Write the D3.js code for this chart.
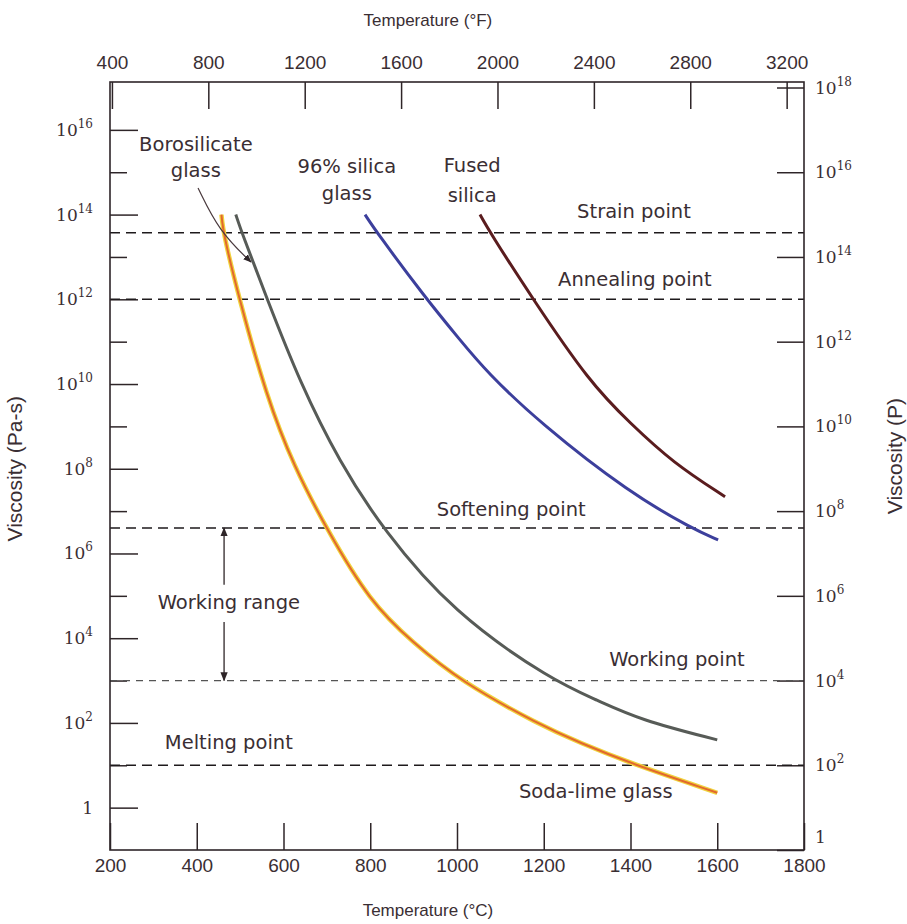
<!DOCTYPE html>
<meta charset="utf-8">
<script src="https://d3js.org/d3.v7.min.js"></script>
<style>
  body { margin: 0; background: #fff; }
  .tick line { stroke: #2e2528; stroke-width: 1.5; }
  .axis path.domain { display: none; }
</style>
<div id="chart"></div>
<script>

// ---- data (temperature in degC, viscosity as log10 of Pa-s) ----
var sodaLimeT   = [457, 461, 497, 561, 624, 700, 799, 899, 1007, 1191, 1284, 1399, 1600];
var sodaLimeLog = [14.0, 13.57, 12.04, 9.70, 8.05, 6.57, 4.86, 3.89, 2.99, 1.95, 1.53, 1.05, 0.35];

var boroT   = [490, 504, 561, 638, 730, 829, 991, 1221, 1323, 1422, 1600];
var boroLog = [14.0, 13.57, 12.04, 10.03, 8.14, 6.57, 4.60, 2.99, 2.54, 2.07, 1.60];

var silica96T   = [788, 815, 926, 1007, 1068, 1191, 1399, 1544, 1602];
var silica96Log = [14.0, 13.58, 12.05, 11.04, 10.29, 9.08, 7.42, 6.58, 6.32];

var fusedT   = [1053, 1076, 1172, 1307, 1399, 1498, 1618];
var fusedLog = [14.0, 13.58, 12.05, 10.02, 9.08, 8.14, 7.34];

// reference viscosities (log10 Pa-s)
var refNames = ["Strain point", "Annealing point", "Softening point", "Working point", "Melting point"];
var refLog   = [13.57, 12.0, 6.6, 3.0, 1.0];

// tick values
var celsiusTicks    = [200, 400, 600, 800, 1000, 1200, 1400, 1600, 1800];
var fahrenheitTicks = [400, 800, 1200, 1600, 2000, 2400, 2800, 3200];
var pasExponents    = [0, 2, 4, 6, 8, 10, 12, 14, 16];      // left axis labels
var pasMinorExp     = [1, 3, 5, 7, 9, 11, 13, 15];
var poiseExponents  = [0, 2, 4, 6, 8, 10, 12, 14, 16, 18]; // right axis labels

// text annotations: [text, degC, log10 Pa-s of baseline]
var notes = [
  ["Borosilicate", 398, 15.5],
  ["glass", 398, 14.89],
  ["96% silica", 746, 14.99],
  ["glass", 746, 14.35],
  ["Fused", 1035, 15.0],
  ["silica", 1035, 14.3],
  ["Strain point", 1408, 13.92],
  ["Annealing point", 1410, 12.32],
  ["Softening point", 1125, 6.89],
  ["Working range", 474, 4.69],
  ["Working point", 1507, 3.34],
  ["Melting point", 474, 1.385],
  ["Soda-lime glass", 1320, 0.228]
];

// ---- layout ----
var margin = {top: 82, right: 103, bottom: 74, left: 110},
    width = 907 - margin.left - margin.right,
    height = 924 - margin.top - margin.bottom;

var ink = "#3a2e33";

var svg = d3.select("#chart")
  .append("svg")
    .attr("width", 907)
    .attr("height", 924)
  .append("g")
    .attr("transform", "translate(" + margin.left + "," + margin.top + ")");

var defs = d3.select("svg").append("defs");
defs.append("marker")
    .attr("id", "arrow")
    .attr("viewBox", "0 0 10 10")
    .attr("refX", 9).attr("refY", 5)
    .attr("markerWidth", 7).attr("markerHeight", 7)
    .attr("orient", "auto-start-reverse")
  .append("path")
    .attr("d", "M0,1 L10,5 L0,9 Z")
    .attr("fill", "#2e2528");

// scales
var x = d3.scaleLinear().domain([200, 1800]).range([0, width]);
var xF = d3.scaleLinear().domain([200 * 9 / 5 + 32, 1800 * 9 / 5 + 32]).range([0, width]);
var y = d3.scaleLog().domain([0.1, Math.pow(10, 17.13)]).range([height, 0]);
var yP = d3.scaleLog().domain([1, Math.pow(10, 18.13)]).range([height, 0]);

function yl(v) { return y(Math.pow(10, v)); }

// bottom axis (degC)
var xAxis = svg.append("g")
  .attr("class", "axis")
  .attr("transform", "translate(0," + height + ")")
  .call(d3.axisBottom(x).tickValues(celsiusTicks).tickFormat(d3.format("d"))
    .tickSize(-27).tickSizeOuter(0).tickPadding(9));
xAxis.selectAll("text")
  .style("font-family", "'Liberation Sans', Arial, sans-serif")
  .style("font-size", "19px")
  .attr("fill", ink);

// top axis (degF)
var xAxisTop = svg.append("g")
  .attr("class", "axis")
  .call(d3.axisTop(xF).tickValues(fahrenheitTicks).tickFormat(d3.format("d"))
    .tickSize(-27).tickSizeOuter(0).tickPadding(13));
xAxisTop.selectAll("text")
  .style("font-family", "'Liberation Sans', Arial, sans-serif")
  .style("font-size", "19px")
  .attr("fill", ink);

// left ticks (Pa-s)
svg.append("g").attr("class", "axis")
  .call(d3.axisLeft(y).tickValues(pasExponents.map(function(e) { return Math.pow(10, e); }))
    .tickSize(-28).tickSizeOuter(0).tickFormat(""));
svg.append("g").attr("class", "axis")
  .call(d3.axisLeft(y).tickValues(pasMinorExp.map(function(e) { return Math.pow(10, e); }))
    .tickSize(-17).tickSizeOuter(0).tickFormat(""));

// right ticks (P)
svg.append("g").attr("class", "axis")
  .attr("transform", "translate(" + width + ",0)")
  .call(d3.axisRight(yP).tickValues(poiseExponents.map(function(e) { return Math.pow(10, e); }))
    .tickSize(-27).tickSizeOuter(0).tickFormat(""));

// power-of-ten labels
function powLabel(sel, e) {
  if (e === 0) {
    sel.append("tspan").text("1");
  } else {
    sel.append("tspan").text("10");
    sel.append("tspan").attr("dy", -8).style("font-size", "12px").text(e);
  }
}

svg.append("g").selectAll("text")
  .data(pasExponents)
  .enter().append("text")
    .attr("x", -17)
    .attr("y", function(e) { return y(Math.pow(10, e)) + 6; })
    .attr("text-anchor", "end")
    .style("font-family", "'DejaVu Serif', serif")
    .style("font-size", "17px")
    .attr("fill", ink)
    .each(function(e) { powLabel(d3.select(this), e); });

svg.append("g").selectAll("text")
  .data(poiseExponents)
  .enter().append("text")
    .attr("x", width + 11)
    .attr("y", function(e) { return yP(Math.pow(10, e)) + (e === 0 ? -7 : 6); })
    .attr("text-anchor", "start")
    .style("font-family", "'DejaVu Serif', serif")
    .style("font-size", "17px")
    .attr("fill", ink)
    .each(function(e) { powLabel(d3.select(this), e); });

// reference dashed lines
svg.append("g").selectAll("line")
  .data(refLog)
  .enter().append("line")
    .attr("x1", 0).attr("x2", width)
    .attr("y1", function(d) { return yl(d); })
    .attr("y2", function(d) { return yl(d); })
    .attr("stroke", function(d, i) { return refNames[i] === "Working point" ? "#555" : "#1e1a1c"; })
    .attr("stroke-width", function(d, i) { return refNames[i] === "Working point" ? 1.3 : 1.6; })
    .attr("stroke-dasharray", function(d, i) { return refNames[i] === "Working point" ? "7,6" : "10,6"; });

// curves
var line = d3.line()
  .x(function(d) { return x(d[0]); })
  .y(function(d) { return yl(d[1]); })
  .curve(d3.curveBasis);

svg.append("path")
  .attr("d", line(d3.zip(sodaLimeT, sodaLimeLog)))
  .attr("fill", "none").attr("stroke", "#f0d23c").attr("stroke-width", 4.5);
svg.append("path")
  .attr("d", line(d3.zip(sodaLimeT, sodaLimeLog)))
  .attr("fill", "none").attr("stroke", "#e2682e").attr("stroke-width", 2);

svg.append("path")
  .attr("d", line(d3.zip(boroT, boroLog)))
  .attr("fill", "none").attr("stroke", "#575b57").attr("stroke-width", 3);

svg.append("path")
  .attr("d", line(d3.zip(silica96T, silica96Log)))
  .attr("fill", "none").attr("stroke", "#3c3f9c").attr("stroke-width", 3);

svg.append("path")
  .attr("d", line(d3.zip(fusedT, fusedLog)))
  .attr("fill", "none").attr("stroke", "#5a1c1e").attr("stroke-width", 3);

// arrows
var arrowLine = d3.line()
  .x(function(d) { return x(d[0]); })
  .y(function(d) { return yl(d[1]); })
  .curve(d3.curveBasis);

svg.append("path")
  .attr("d", arrowLine([[403, 14.63], [452, 13.6], [525, 12.88]]))
  .attr("fill", "none").attr("stroke", "#4a3a3e").attr("stroke-width", 1.2)
  .attr("marker-end", "url(#arrow)");

svg.append("line")
  .attr("x1", x(463)).attr("x2", x(463))
  .attr("y1", yl(5.26)).attr("y2", yl(6.6))
  .attr("stroke", "#2e2528").attr("stroke-width", 1.3)
  .attr("marker-end", "url(#arrow)");
svg.append("line")
  .attr("x1", x(463)).attr("x2", x(463))
  .attr("y1", yl(4.38)).attr("y2", yl(3.0))
  .attr("stroke", "#2e2528").attr("stroke-width", 1.3)
  .attr("marker-end", "url(#arrow)");

// annotation text
svg.append("g").selectAll("text")
  .data(notes)
  .enter().append("text")
    .attr("x", function(d) { return x(d[1]); })
    .attr("y", function(d) { return yl(d[2]); })
    .attr("text-anchor", "middle")
    .style("font-family", "'DejaVu Sans', sans-serif")
    .style("font-size", "19.5px")
    .attr("fill", ink)
    .text(function(d) { return d[0]; });

// frame
svg.append("rect")
  .attr("width", width).attr("height", height)
  .attr("fill", "none").attr("stroke", "#2e2528").attr("stroke-width", 1.6);

// axis titles
svg.append("text")
  .attr("x", x(933)).attr("y", height + 66)
  .attr("text-anchor", "middle")
  .style("font-family", "'Liberation Sans', Arial, sans-serif")
  .style("font-size", "17px")
  .attr("fill", ink)
  .text("Temperature (\u00B0C)");

svg.append("text")
  .attr("x", x(933)).attr("y", -56)
  .attr("text-anchor", "middle")
  .style("font-family", "'Liberation Sans', Arial, sans-serif")
  .style("font-size", "17px")
  .attr("fill", ink)
  .text("Temperature (\u00B0F)");

svg.append("text")
  .attr("transform", "translate(" + (-88) + "," + (yl(8)) + ") rotate(-90)")
  .attr("text-anchor", "middle")
  .style("font-family", "'Liberation Sans', Arial, sans-serif")
  .style("font-size", "21px")
  .attr("fill", ink)
  .text("Viscosity (Pa-s)");

svg.append("text")
  .attr("transform", "translate(" + (width + 98) + "," + (yl(8.3)) + ") rotate(-90)")
  .attr("text-anchor", "middle")
  .style("font-family", "'Liberation Sans', Arial, sans-serif")
  .style("font-size", "21px")
  .attr("fill", ink)
  .text("Viscosity (P)");

</script>
